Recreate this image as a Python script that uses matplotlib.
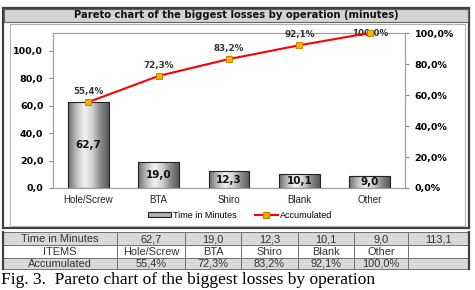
import numpy as np
import matplotlib
matplotlib.use("Agg")
import matplotlib.pyplot as plt
from matplotlib.colors import LinearSegmentedColormap
from matplotlib.patches import Rectangle
from matplotlib.lines import Line2D
from matplotlib.patches import Patch

# data
items = ["Hole/Screw", "BTA", "Shiro", "Blank", "Other"]
minutes = [62.7, 19.0, 12.3, 10.1, 9.0]
accumulated = [55.4, 72.3, 83.2, 92.1, 100.0]
total = 113.1
left_ticks = [0, 20, 40, 60, 80, 100]
right_ticks = [0, 20, 40, 60, 80, 100]

def comma(v, fmt="{:.1f}"):
    return fmt.format(v).replace(".", ",")

W, H = 475, 290
fig = plt.figure(figsize=(W / 100, H / 100), dpi=100)

# background layer in pixel coords for frames, title bar and table
bg = fig.add_axes([0, 0, 1, 1], zorder=0)
bg.set_xlim(0, W)
bg.set_ylim(H, 0)
bg.axis("off")

# chart frame
bg.add_patch(Rectangle((3, 8), 466, 220, fill=False, ec="#404040", lw=1.6))
bg.add_patch(Rectangle((4, 9), 464, 13, fc="#d4d4d4", ec="#606060", lw=0.8))
bg.text(236, 15.5, "Pareto chart of the biggest losses by operation (minutes)",
        ha="center", va="center", fontsize=7.2, fontweight="bold", color="#111111")
bg.add_patch(Rectangle((10, 24), 455, 202, fc="white", ec="#b0b0b0", lw=0.8))

# table under the chart
col_edges = [3, 117, 185, 241, 298, 354, 408, 469]
row_edges = [232, 245, 258, 269]
row_fill = ["#d9d9d9", "white", "#d9d9d9"]
rows = [
    ["Time in Minutes"] + [comma(v) for v in minutes] + [comma(total)],
    ["ITEMS"] + items + [""],
    ["Accumulated"] + [comma(v) + "%" for v in accumulated] + [""],
]
for r in range(3):
    y0, y1 = row_edges[r], row_edges[r + 1]
    bg.add_patch(Rectangle((col_edges[0], y0), col_edges[-1] - col_edges[0], y1 - y0,
                           fc=row_fill[r], ec="none"))
    for c in range(len(col_edges) - 1):
        x0, x1 = col_edges[c], col_edges[c + 1]
        bg.text((x0 + x1) / 2, (y0 + y1) / 2 + 0.5, rows[r][c], ha="center", va="center",
                fontsize=7.9, color="#333333", family="Liberation Sans")
for y in row_edges:
    bg.plot([col_edges[0], col_edges[-1]], [y, y], color="#707070", lw=0.7)
for x in col_edges:
    bg.plot([x, x], [row_edges[0], row_edges[-1]], color="#707070", lw=0.7)
bg.plot([3, 3], [row_edges[0], row_edges[-1]], color="#404040", lw=1.6)
bg.plot([469, 469], [row_edges[0], row_edges[-1]], color="#404040", lw=1.6)

bg.text(1, 280, "Fig. 3.  Pareto chart of the biggest losses by operation",
        ha="left", va="center", fontsize=12.5, family="Liberation Serif", color="black")

# main plot area
ax = fig.add_axes([53 / W, (H - 188) / H, 352 / W, 155 / H], zorder=2)
ax.set_facecolor("white")
x = np.arange(len(items))
bw = 0.58
cmap = LinearSegmentedColormap.from_list(
    "cyl", ["#6e6e6e", "#bdbdbd", "#f2f2f2", "#d0d0d0", "#8a8a8a", "#5a5a5a"])
grad = np.linspace(0, 1, 64).reshape(1, -1)
bars = ax.bar(x, minutes, bw, color="none", edgecolor="#222222", lw=0.8, zorder=3)
for b in bars:
    im = ax.imshow(grad, cmap=cmap, aspect="auto", zorder=2,
                   extent=(b.get_x(), b.get_x() + b.get_width(), 0, b.get_height()))
    im.set_clip_path(b)
for xi, v in zip(x, minutes):
    ax.text(xi, v / 2, comma(v), ha="center", va="center", fontsize=7.5,
            fontweight="bold", color="#111111", zorder=5)

ax.set_xlim(-0.5, len(items) - 0.5)
ax.set_ylim(0, total)
ax.set_yticks(left_ticks)
ax.set_yticklabels([comma(t) for t in left_ticks], fontsize=6.8, fontweight="bold")
ax.set_xticks(x)
ax.set_xticklabels(items, fontsize=7, color="#222222", family="Liberation Sans")
ax.tick_params(axis="x", length=0, pad=5)
ax.tick_params(axis="y", length=3, color="#888888", pad=4)
for s in ax.spines.values():
    s.set_color("#a0a0a0")
    s.set_linewidth(0.8)

ax2 = ax.twinx()
ax2.set_zorder(3)
ax2.plot(x, accumulated, color="#ff0000", lw=1.5, marker="s", markersize=5,
         markerfacecolor="#ffb000", markeredgecolor="#d08000", markeredgewidth=0.7,
         zorder=4, clip_on=False)
for xi, v in zip(x, accumulated):
    # Excel squeezes the top label down onto the marker
    ax2.text(xi, min(v + 4, 97), comma(v) + "%", ha="center", va="bottom", fontsize=6.3,
             fontweight="bold", color="#333333")
ax2.set_ylim(0, 100)
ax2.set_yticks(right_ticks)
ax2.set_yticklabels([comma(t) + "%" for t in right_ticks], fontsize=6.8, fontweight="bold")
ax2.tick_params(axis="y", length=3, color="#888888", pad=4)
for s in ax2.spines.values():
    s.set_color("#a0a0a0")
    s.set_linewidth(0.8)

handles = [Patch(facecolor="#b0b0b0", edgecolor="#222222", lw=0.8),
           Line2D([0], [0], color="#ff0000", lw=1.5, marker="s", markersize=5,
                  markerfacecolor="#ffb000", markeredgecolor="#d08000")]
fig.legend(handles, ["Time in Minutes", "Accumulated"], loc="center",
           bbox_to_anchor=(240 / W, 1 - 215 / H), ncol=2, frameon=False,
           prop={"family": "Liberation Sans", "size": 6.5}, handlelength=2.6,
           handleheight=0.5, columnspacing=2.0, handletextpad=0.2)

fig.savefig("out.png", dpi=100)
